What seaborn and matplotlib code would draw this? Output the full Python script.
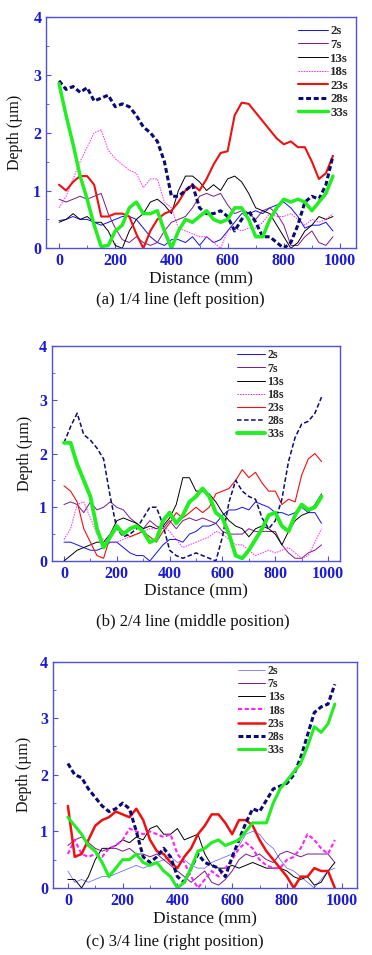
import matplotlib
matplotlib.use("Agg")
import matplotlib.pyplot as plt
import seaborn as sns
import pandas as pd

# ---------------- data ----------------
DIST = [0, 25, 50, 75, 100, 125, 150, 175, 200, 225, 250, 275, 300, 325, 350,
        375, 400, 425, 450, 475, 500, 525, 550, 575, 600, 625, 650, 675, 700,
        725, 750, 775, 800, 825, 850, 875, 900, 925, 950, 975]
SERIES = ["2s", "7s", "13s", "18s", "23s", "28s", "33s"]
CAPTIONS = ["(a) 1/4 line (left position)", "(b) 2/4 line (middle position)",
            "(c) 3/4 line (right position)"]
X_TICKS = [0, 200, 400, 600, 800, 1000]
Y_TICKS = [0, 1, 2, 3, 4]

# panel (a)
a_2s = [0.48, 0.5, 0.55, 0.5, 0.5, 0.45, 0.4, 0.45, 0.5, 0.55, 0.55, 0.5, 0.35, 0.2, 0.1, 0.05, 0.15, 0.15, 0.1, 0.2,
        0.05, 0.2, 0.1, 0.15, 0.3, 0.45, 0.6, 0.6, 0.65, 0.6, 0.7, 0.75, 0.8, 0.7, 0.55, 0.35, 0.4, 0.4, 0.45, 0.3]
a_7s = [0.85, 0.8, 0.85, 0.9, 0.85, 0.9, 0.95, 0.6, 0.35, 0.15, 0.1, 0.2, 0.1, 0.05, 0.1, 0.3, 0.45, 0.5, 0.55, 0.7,
        0.9, 0.95, 0.9, 0.95, 0.75, 0.6, 0.65, 0.6, 0.5, 0.65, 0.7, 0.6, 0.4, 0.05, 0.05, 0.2, 0.3, 0.1, 0.05, 0.2]
a_13s = [0.45, 0.5, 0.6, 0.5, 0.55, 0.45, 0.45, 0.3, 0.05, 0.0, 0.3, 0.5, 0.6, 0.8, 0.85, 0.75, 0.6, 1.0, 1.25, 1.25,
         1.15, 1.0, 1.1, 1.0, 1.2, 1.25, 1.15, 0.95, 0.7, 0.65, 0.6, 0.4, 0.2, 0.0, 0.1, 0.3, 0.4, 0.55, 0.5, 0.55]
a_18s = [0.7, 0.9, 1.2, 1.5, 1.75, 2.0, 2.05, 1.7, 1.55, 1.45, 1.35, 1.3, 1.05, 1.2, 1.2, 0.8, 0.7, 0.35, 0.3, 0.25,
         0.2, 0.2, 0.1, 0.0, 0.3, 0.35, 0.3, 0.35, 0.35, 0.45, 0.6, 0.55, 0.55, 0.6, 0.5, 0.4, 0.5, 0.45, 0.5, 0.6]
a_23s = [1.1, 1.0, 1.15, 1.25, 1.25, 1.1, 0.55, 0.55, 0.6, 0.6, 0.55, 0.25, 0.0, 0.3, 0.5, 0.6, 0.65, 0.8, 1.0, 1.1,
         1.0, 1.2, 1.45, 1.65, 1.68, 2.3, 2.52, 2.5, 2.35, 2.2, 2.05, 1.9, 1.8, 1.85, 1.75, 1.75, 1.5, 1.2, 1.3, 1.6]
a_28s = [2.9, 2.75, 2.8, 2.7, 2.78, 2.55, 2.6, 2.65, 2.45, 2.5, 2.45, 2.3, 2.1, 2.0, 1.85, 1.5, 0.9, 0.9, 1.0, 1.1,
         0.7, 0.6, 0.6, 0.65, 0.55, 0.3, 0.5, 0.65, 0.45, 0.2, 0.2, 0.1, 0.0, 0.1, 0.4, 0.8, 0.9, 0.85, 1.1, 1.6]
a_33s = [2.85, 2.3, 1.8, 1.25, 0.85, 0.4, 0.03, 0.05, 0.3, 0.4, 0.7, 0.8, 0.6, 0.6, 0.65, 0.3, 0.0, 0.3, 0.5, 0.45,
         0.55, 0.65, 0.5, 0.45, 0.5, 0.7, 0.7, 0.5, 0.2, 0.2, 0.5, 0.7, 0.85, 0.8, 0.85, 0.8, 0.65, 0.8, 0.95, 1.25]

# panel (b)
b_2s = [0.35, 0.35, 0.3, 0.25, 0.2, 0.2, 0.25, 0.35, 0.35, 0.25, 0.15, 0.1, 0.1, 0.0, 0.15, 0.3, 0.4, 0.4, 0.35, 0.5,
        0.55, 0.65, 0.65, 0.7, 0.85, 0.95, 0.95, 1.0, 0.95, 1.1, 1.05, 1.0, 0.9, 0.9, 0.85, 0.9, 1.0, 0.9, 0.9, 0.7]
b_7s = [1.05, 1.1, 1.05, 0.9, 1.1, 0.95, 1.0, 1.1, 1.0, 0.95, 0.8, 0.7, 0.6, 0.75, 0.65, 0.6, 0.75, 0.6, 0.75, 0.8,
        0.75, 0.8, 0.75, 0.7, 0.55, 0.5, 0.5, 0.5, 0.6, 0.55, 0.55, 0.55, 0.55, 0.3, 0.15, 0.05, 0.05, 0.15, 0.2, 0.3]
b_13s = [0.0, 0.1, 0.2, 0.25, 0.3, 0.35, 0.35, 0.5, 0.75, 0.8, 0.75, 0.7, 0.6, 0.65, 0.6, 0.65, 0.8, 1.05, 1.55, 1.55,
         1.3, 1.3, 1.25, 1.1, 0.9, 0.75, 0.65, 0.6, 0.45, 0.6, 0.65, 0.6, 0.5, 0.3, 0.55, 0.75, 0.85, 0.9, 1.05, 1.25]
b_18s = [0.4, 0.6, 1.05, 1.1, 0.8, 0.5, 0.4, 0.35, 0.35, 0.4, 0.45, 0.5, 0.55, 0.6, 0.6, 0.65, 0.55, 0.4, 0.25, 0.3,
         0.35, 0.4, 0.45, 0.55, 0.5, 0.4, 0.3, 0.3, 0.2, 0.1, 0.15, 0.2, 0.15, 0.2, 0.25, 0.15, 0.05, 0.1, 0.35, 0.6]
b_23s = [1.4, 1.3, 1.1, 0.6, 0.35, 0.1, 0.05, 0.45, 0.6, 0.55, 0.45, 0.5, 0.55, 0.45, 0.35, 0.55, 0.7, 0.9, 0.8, 0.9,
         1.0, 0.9, 1.0, 1.25, 1.3, 1.35, 1.5, 1.7, 1.55, 1.65, 1.45, 1.3, 1.3, 1.05, 1.15, 1.1, 1.6, 1.9, 2.0, 1.85]
b_28s = [2.2, 2.5, 2.75, 2.35, 2.25, 2.1, 1.9, 1.2, 0.6, 0.45, 0.5, 0.6, 0.8, 1.0, 1.0, 0.67, 0.2, 0.1, 0.05, 0.1,
         0.15, 0.1, 0.05, 0.0, 0.45, 1.1, 1.5, 1.3, 1.2, 1.15, 0.8, 0.6, 0.75, 1.15, 1.85, 2.3, 2.55, 2.6, 2.75, 3.05]
b_33s = [2.2, 2.2, 1.8, 1.5, 1.2, 0.6, 0.25, 0.45, 0.65, 0.5, 0.6, 0.65, 0.55, 0.35, 0.4, 0.75, 0.9, 0.7, 0.85, 1.1,
         1.2, 1.35, 1.2, 0.9, 0.8, 0.5, 0.1, 0.05, 0.2, 0.4, 0.6, 0.85, 0.9, 0.65, 0.55, 0.85, 1.05, 0.95, 1.0, 1.2]

# panel (c)
c_2s = [0.3, 0.1, 0.15, 0.1, 0.15, 0.2, 0.2, 0.25, 0.3, 0.35, 0.4, 0.35, 0.4, 0.45, 0.5, 0.55, 0.45, 0.5, 0.4, 0.35,
        0.35, 0.45, 0.5, 0.55, 0.6, 0.75, 0.95, 1.0, 0.95, 0.8, 0.7, 0.5, 0.35, 0.3, 0.2, 0.1, 0.0, 0.15, 0.3, 0.35]
c_7s = [0.75, 0.85, 0.9, 0.8, 0.7, 0.65, 0.7, 0.7, 0.65, 0.7, 0.6, 0.6, 0.55, 0.6, 0.5, 0.4, 0.3, 0.2, 0.1, 0.2,
        0.3, 0.1, 0.05, 0.15, 0.3, 0.5, 0.6, 0.55, 0.6, 0.5, 0.45, 0.6, 0.65, 0.6, 0.55, 0.6, 0.6, 0.6, 0.6, 0.45]
c_13s = [0.15, 0.15, 0.0, 0.2, 0.5, 0.7, 0.7, 0.75, 0.85, 0.8, 0.9, 0.85, 1.05, 1.1, 0.95, 0.95, 1.05, 0.85, 0.9, 0.95,
         0.6, 0.4, 0.35, 0.35, 0.4, 0.35, 0.4, 0.45, 0.4, 0.35, 0.35, 0.35, 0.3, 0.2, 0.15, 0.2, 0.05, 0.1, 0.3, 0.45]
c_18s = [0.6, 0.85, 0.6, 0.55, 0.6, 0.55, 0.7, 0.75, 0.85, 1.05, 1.0, 0.95, 1.0, 0.95, 0.9, 0.95, 0.6, 0.45, 0.2, 0.0,
         0.15, 0.3, 0.2, 0.35, 0.5, 0.7, 0.8, 0.7, 0.5, 0.4, 0.35, 0.35, 0.5, 0.55, 0.7, 0.95, 0.85, 0.7, 0.6, 0.85]
c_23s = [1.45, 0.55, 0.6, 0.85, 1.1, 1.2, 1.25, 1.35, 1.3, 1.25, 1.4, 1.2, 0.85, 0.65, 0.6, 0.45, 0.35, 0.55, 0.7, 0.95,
         1.1, 1.3, 1.3, 1.15, 0.95, 1.2, 1.2, 1.1, 0.85, 0.65, 0.5, 0.35, 0.2, 0.0, 0.2, 0.2, 0.35, 0.3, 0.3, 0.0]
c_28s = [2.2, 2.0, 1.95, 1.75, 1.6, 1.45, 1.35, 1.4, 1.5, 1.4, 1.0, 0.55, 0.45, 0.55, 0.7, 0.55, 0.2, 0.1, 0.35, 0.6,
         0.45, 0.4, 0.35, 0.2, 0.55, 0.85, 1.15, 1.4, 1.35, 1.55, 1.75, 1.8, 1.85, 2.0, 2.3, 2.7, 3.1, 3.2, 3.25, 3.6]
c_33s = [1.25, 1.1, 0.95, 0.75, 0.65, 0.45, 0.2, 0.35, 0.5, 0.5, 0.6, 0.45, 0.4, 0.45, 0.3, 0.2, 0.0, 0.1, 0.35, 0.65,
         0.7, 0.8, 0.85, 0.75, 0.8, 0.85, 1.0, 1.15, 1.15, 1.15, 1.5, 1.75, 1.9, 2.05, 2.2, 2.5, 2.85, 2.75, 2.9, 3.25]

PANEL_DATA = [
    [a_2s, a_7s, a_13s, a_18s, a_23s, a_28s, a_33s],
    [b_2s, b_7s, b_13s, b_18s, b_23s, b_28s, b_33s],
    [c_2s, c_7s, c_13s, c_18s, c_23s, c_28s, c_33s],
]

# ---------------- styles ----------------
COLORS = ["#1010ee", "#7a1a8a", "#000000", "#ff22ff", "#ee1111", "#0a0a70", "#22ee22"]
STYLES = [
    # panel a
    [dict(lw=0.7, ls="-"), dict(lw=0.7, ls="-"), dict(lw=0.7, ls="-"), dict(lw=0.7, ls=(0, (1.5, 1.2))),
     dict(lw=1.5, ls="-"), dict(lw=2.2, ls=(0, (1.6, 0.9))), dict(lw=2.5, ls="-")],
    # panel b
    [dict(lw=0.7, ls="-"), dict(lw=0.7, ls="-"), dict(lw=0.7, ls="-"), dict(lw=0.7, ls=(0, (1.5, 1.2))),
     dict(lw=0.8, ls="-"), dict(lw=1.1, ls=(0, (3.0, 1.6))), dict(lw=2.8, ls="-")],
    # panel c
    [dict(lw=0.5, ls="-"), dict(lw=0.7, ls="-"), dict(lw=0.7, ls="-"), dict(lw=1.5, ls=(0, (2.0, 1.2))),
     dict(lw=1.8, ls="-"), dict(lw=2.2, ls=(0, (1.6, 0.9))), dict(lw=2.2, ls="-")],
]
C2_COLOR = "#5a5aff"

# axes rectangles [left, bottom, width, height] in figure fraction
RECTS = [[0.124, 0.740, 0.833, 0.242],
         [0.140, 0.4126, 0.774, 0.225],
         [0.142, 0.0702, 0.817, 0.237]]
XLIMS = [(-46, 1057), (-45, 1045), (-55, 1055)]
LEG_ANCHOR = [(0.975, 0.965), (0.805, 0.985), (0.762, 0.985)]
LEG_SIZE = [9.3, 8.6, 8.6]
LEG_SPACING = [0.12, 0.1, 0.1]
YLAB_X = [-0.10, -0.095, -0.095]
XLAB_Y = [-0.134, -0.14, -0.137]
CAP_POS = [(0.484, 0.686), (0.517, 0.349), (0.47, 0.0136)]

sns.set_theme(style="white")
plt.rcParams["font.family"] = ["Liberation Serif", "DejaVu Serif"]

SPINE = "#5050d8"
TICKC = "#1a1ad8"

fig = plt.figure(figsize=(3.72, 9.55), dpi=100)
fig.patch.set_facecolor("white")

for p in range(3):
    ax = fig.add_axes(RECTS[p])
    ax.set_facecolor("white")
    for i, name in enumerate(SERIES):
        df = pd.DataFrame({"Distance": DIST, "Depth": PANEL_DATA[p][i]})
        st = STYLES[p][i]
        col = COLORS[i]
        if p == 2 and i == 0:
            col = C2_COLOR
        sns.lineplot(data=df, x="Distance", y="Depth", ax=ax, color=col,
                     linewidth=st["lw"], linestyle=st["ls"], label=name,
                     estimator=None, sort=False)
    ax.set_xlim(*XLIMS[p])
    ax.set_ylim(0, 4)
    ax.set_xticks(X_TICKS)
    ax.set_yticks(Y_TICKS)
    ax.set_xticks([100, 300, 500, 700, 900], minor=True)
    ax.set_yticks([0.5, 1.5, 2.5, 3.5], minor=True)
    ax.tick_params(axis="both", which="both", direction="in", color=SPINE,
                   top=False, right=False, bottom=True, left=True)
    ax.tick_params(axis="both", which="major", length=3.5, width=0.8,
                   labelsize=11.5, labelcolor=TICKC, pad=3.5)
    ax.tick_params(axis="both", which="minor", length=2.5, width=0.6)
    for lab in ax.get_xticklabels() + ax.get_yticklabels():
        lab.set_fontweight("bold")
        lab.set_family(["Liberation Serif", "DejaVu Serif"])
    for s in ax.spines.values():
        s.set_visible(True)
        s.set_color(SPINE)
        s.set_linewidth(1.0)
    ax.set_xlabel("Distance (mm)", fontsize=12.5, color="#111111")
    ax.set_ylabel("Depth (\u00b5m)", fontsize=11.5, color="#111111")
    ax.xaxis.set_label_coords(0.5, XLAB_Y[p])
    ax.yaxis.set_label_coords(YLAB_X[p], 0.5)
    ax.xaxis.label.set_va("center")
    ax.yaxis.label.set_va("center")
    ax.yaxis.label.set_ha("center")
    leg = ax.legend(loc="upper right", bbox_to_anchor=LEG_ANCHOR[p], frameon=False,
                    prop={"family": "Liberation Serif", "weight": "bold", "size": LEG_SIZE[p]},
                    handlelength=2.3, handletextpad=0.2, labelspacing=LEG_SPACING[p],
                    borderpad=0.0, borderaxespad=0.0)
    fig.text(CAP_POS[p][0], CAP_POS[p][1], CAPTIONS[p], ha="center", va="center",
             fontsize=12, color="#111111")

fig.savefig("out.png", dpi=100, facecolor="white")
